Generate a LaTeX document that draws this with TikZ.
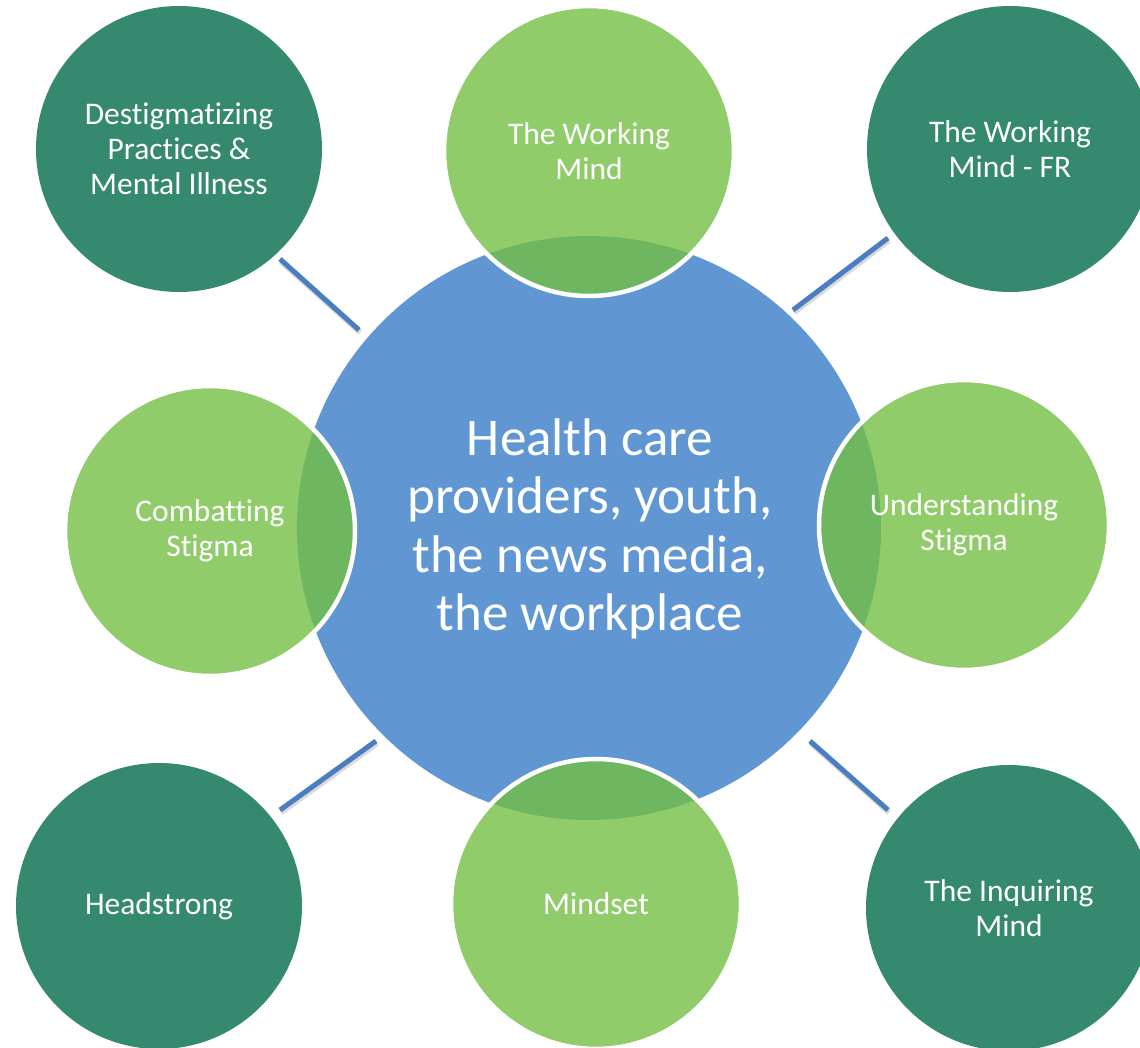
\documentclass[tikz,border=0pt]{standalone}
\usepackage{fontspec}
\setmainfont{Carlito}[Ligatures=NoCommon]
\definecolor{bigblue}{RGB}{96,151,210}
\definecolor{lightgreen}{RGB}{145,204,107}
\definecolor{overlapgreen}{RGB}{110,182,96}
\definecolor{darkgreen}{RGB}{53,137,110}
\definecolor{linkblue}{RGB}{74,126,193}
\tikzset{
  smalltxt/.style={circle, minimum size=286pt, inner sep=0pt, outer sep=0pt, text=white, align=center, font=\fontsize{31.5}{35}\selectfont},
  bigtxt/.style={circle, minimum size=584pt, inner sep=0pt, outer sep=0pt, text=white, align=center, font=\fontsize{53}{58.5}\selectfont},
  link/.style={draw=linkblue, line width=5pt},
  linkshadow/.style={draw=black, opacity=0.15, line width=5.5pt},
  rim/.style={draw=white, line width=4.5pt}
}
\begin{document}
\begin{tikzpicture}[x=1pt,y=-1pt]
\useasboundingbox (0,0) rectangle (1140,1048);
\clip (0,0) rectangle (1140,1048);
% centres
\coordinate (pC) at (589,528);
\coordinate (pDest) at (179,149);
\coordinate (pWM) at (589,151);
\coordinate (pFR) at (1010,149);
\coordinate (pComb) at (210,531);
\coordinate (pUnd) at (964,525);
\coordinate (pHead) at (159,906);
\coordinate (pMind) at (596,904);
\coordinate (pInq) at (1009,908);
% fills
\fill[bigblue] (pC) circle (292pt);
\fill[darkgreen] (pDest) circle (143pt);
\fill[darkgreen] (pFR) circle (143pt);
\fill[darkgreen] (pHead) circle (143pt);
\fill[darkgreen] (pInq) circle (143pt);
\foreach \p in {pWM,pComb,pUnd,pMind}{
  \fill[lightgreen] (\p) circle (143pt);
}
\begin{scope}
  \clip (pC) circle (292pt);
  \foreach \p in {pWM,pComb,pUnd,pMind}{
    \fill[overlapgreen] (\p) circle (143pt);
  }
\end{scope}
\foreach \p in {pWM,pComb,pUnd,pMind}{
  \draw[rim] (\p) circle (145pt);
}
% text nodes
\node[bigtxt] (ctr) at (590,529) {Health care\\providers, youth,\\the news media,\\the workplace};
\node[smalltxt] (dest) at (pDest) {Destigmatizing\\Practices \&\\Mental Illness};
\node[smalltxt] (wm) at (pWM) {The Working\\Mind};
\node[smalltxt] (fr) at (pFR) {The Working\\Mind - FR};
\node[smalltxt] (comb) at (pComb) {Combatting\\Stigma};
\node[smalltxt] (und) at (pUnd) {Understanding\\Stigma};
\node[smalltxt] (head) at (pHead) {Headstrong};
\node[smalltxt] (mind) at (pMind) {Mindset};
\node[smalltxt] (inq) at (pInq) {The Inquiring\\Mind};
% connectors
\begin{scope}[transform canvas={shift={(1pt,-2.5pt)}}]
\draw[linkshadow] ([shift={(101,110)}]dest.center) -- ([shift={(-231,-199)}]ctr.center);
\draw[linkshadow] ([shift={(-122,89)}]fr.center) -- ([shift={(203,-219)}]ctr.center);
\draw[linkshadow] ([shift={(121,-96)}]head.center) -- ([shift={(-214,212)}]ctr.center);
\draw[linkshadow] ([shift={(-121,-98)}]inq.center) -- ([shift={(220,212)}]ctr.center);
\end{scope}
\draw[link] ([shift={(101,110)}]dest.center) -- ([shift={(-231,-199)}]ctr.center);
\draw[link] ([shift={(-122,89)}]fr.center) -- ([shift={(203,-219)}]ctr.center);
\draw[link] ([shift={(121,-96)}]head.center) -- ([shift={(-214,212)}]ctr.center);
\draw[link] ([shift={(-121,-98)}]inq.center) -- ([shift={(220,212)}]ctr.center);
\end{tikzpicture}
\end{document}
